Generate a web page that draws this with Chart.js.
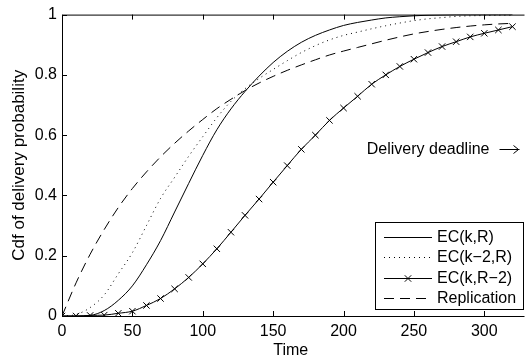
<!DOCTYPE html>
<html>
<head>
<meta charset="utf-8">
<script src="https://cdn.jsdelivr.net/npm/chart.js@4/dist/chart.umd.min.js"></script>
<style>
	body { margin: 0; background: white; }
	canvas { display: block; }
</style>
</head>
<body>
<canvas id="cdf" width="525" height="360"></canvas>
<script>
// time axis (every 10 units)
var times = [0, 10, 20, 30, 40, 50, 60, 70, 80, 90, 100, 110, 120, 130, 140, 150, 160,
	170, 180, 190, 200, 210, 220, 230, 240, 250, 260, 270, 280, 290, 300, 310, 320];

var ecKR = [0, 0, 0.002, 0.018, 0.052, 0.10, 0.17, 0.25, 0.345, 0.44, 0.533, 0.618, 0.687,
	0.745, 0.796, 0.841, 0.878, 0.908, 0.931, 0.949, 0.964, 0.974, 0.982, 0.989, 0.993,
	0.996, 0.998, 0.999, 1, 1, 1, 1, 1];
var ecK2R = [0, 0.005, 0.028, 0.07, 0.14, 0.21, 0.30, 0.39, 0.46, 0.53, 0.595, 0.658, 0.712,
	0.754, 0.788, 0.818, 0.847, 0.874, 0.897, 0.916, 0.931, 0.942, 0.953, 0.963, 0.972,
	0.98, 0.986, 0.99, 0.994, 0.996, 0.997, 0.998, 0.998];
var ecKR2 = [0, 0, 0.002, 0.003, 0.009, 0.016, 0.035, 0.058, 0.09, 0.128, 0.173, 0.223, 0.278,
	0.334, 0.388, 0.444, 0.499, 0.553, 0.60, 0.649, 0.69, 0.729, 0.769, 0.80, 0.828,
	0.852, 0.874, 0.894, 0.91, 0.926, 0.938, 0.949, 0.96];
var replication = [0, 0.11, 0.205, 0.287, 0.36, 0.423, 0.478, 0.528, 0.573, 0.614, 0.652, 0.688, 0.719,
	0.748, 0.773, 0.795, 0.815, 0.833, 0.85, 0.866, 0.879, 0.891, 0.903, 0.915, 0.926,
	0.936, 0.944, 0.951, 0.957, 0.962, 0.966, 0.969, 0.971];

var seriesLabels = ['EC(k,R)', 'EC(k\u22122,R)', 'EC(k,R\u22122)', 'Replication'];
var xTicks = [0, 50, 100, 150, 200, 250, 300];
var yTicks = [0, 0.2, 0.4, 0.6, 0.8, 1];
var deadlineText = 'Delivery deadline';
var deadlinePoint = [325, 0.553];

var FONT = '"Liberation Sans", Arial, Helvetica, sans-serif';

function pts(ys) {
	return times.map(function (t, i) { return { x: t, y: ys[i] }; });
}

// frame + inward ticks like matlab
var framePlugin = {
	id: 'frame',
	afterDatasetsDraw: function (chart) {
		var ctx = chart.ctx;
		var a = chart.chartArea;
		var xs = chart.scales.x, ys = chart.scales.y;
		ctx.save();
		ctx.strokeStyle = 'black';
		ctx.lineWidth = 1;
		ctx.beginPath();
		ctx.moveTo(a.right + 5, a.top + 0.5);
		ctx.lineTo(a.left + 0.5, a.top + 0.5);
		ctx.lineTo(a.left + 0.5, a.bottom + 0.5);
		ctx.lineTo(a.right + 5, a.bottom + 0.5);
		xTicks.forEach(function (v) {
			var px = Math.round(xs.getPixelForValue(v)) + 0.5;
			ctx.moveTo(px, a.bottom);
			ctx.lineTo(px, a.bottom - 5);
			ctx.moveTo(px, a.top);
			ctx.lineTo(px, a.top + 5);
		});
		yTicks.forEach(function (v) {
			var py = Math.round(ys.getPixelForValue(v)) + 0.5;
			ctx.moveTo(a.left, py);
			ctx.lineTo(a.left + 5, py);
		});
		ctx.stroke();

		// deadline annotation
		var ax = xs.getPixelForValue(deadlinePoint[0]);
		var ay = Math.round(ys.getPixelForValue(deadlinePoint[1])) + 0.5;
		ctx.fillStyle = 'black';
		ctx.font = '16px ' + FONT;
		ctx.textAlign = 'right';
		ctx.textBaseline = 'middle';
		ctx.fillText(deadlineText, ax - 30, ay);
		ctx.beginPath();
		ctx.moveTo(ax - 20, ay);
		ctx.lineTo(ax, ay);
		ctx.moveTo(ax - 6, ay - 4);
		ctx.lineTo(ax - 1, ay);
		ctx.lineTo(ax - 6, ay + 4);
		ctx.stroke();

		// legend box
		var bx = 375, by = 222, bw = 148, bh = 87;
		ctx.fillStyle = 'white';
		ctx.fillRect(bx, by, bw, bh);
		ctx.strokeRect(bx + 0.5, by + 0.5, bw, bh);
		chart.data.datasets.forEach(function (ds, i) {
			var ry = Math.round(by + 15 + i * 20.3) + 0.5;
			ctx.save();
			ctx.setLineDash(ds.borderDash || []);
			ctx.beginPath();
			ctx.moveTo(bx + 9, ry);
			ctx.lineTo(bx + 57, ry);
			ctx.stroke();
			ctx.restore();
			if (ds.pointRadius > 0) {
				var cx = bx + 33, r = 3.2;
				ctx.beginPath();
				ctx.moveTo(cx - r, ry - r); ctx.lineTo(cx + r, ry + r);
				ctx.moveTo(cx - r, ry + r); ctx.lineTo(cx + r, ry - r);
				ctx.stroke();
			}
			ctx.fillStyle = 'black';
			ctx.textAlign = 'left';
			ctx.fillText(ds.label, bx + 62, ry);
		});
		ctx.restore();
	}
};

function start() {
	var ctx = document.getElementById('cdf').getContext('2d');
	new Chart(ctx, {
		type: 'line',
		data: {
			datasets: [{
				label: seriesLabels[0],
				data: pts(ecKR),
				borderColor: 'black',
				borderWidth: 1,
				pointRadius: 0
			}, {
				label: seriesLabels[1],
				data: pts(ecK2R),
				borderColor: 'black',
				borderWidth: 1,
				borderDash: [1, 4],
				pointRadius: 0
			}, {
				label: seriesLabels[2],
				data: pts(ecKR2),
				borderColor: 'black',
				borderWidth: 1,
				pointRadius: 4.5,
				pointStyle: 'crossRot',
				pointBorderColor: 'black',
				pointBorderWidth: 1
			}, {
				label: seriesLabels[3],
				data: pts(replication),
				borderColor: 'black',
				borderWidth: 1,
				borderDash: [10, 6],
				pointRadius: 0
			}]
		},
		options: {
			responsive: false,
			animation: false,
			cubicInterpolationMode: 'monotone',
			layout: { padding: { top: 12, right: 0, left: 0, bottom: 0 } },
			plugins: {
				legend: { display: false },
				tooltip: { enabled: false }
			},
			scales: {
				x: {
					type: 'linear',
					min: 0,
					max: 325,
					border: { display: false },
					grid: { display: false, drawTicks: false },
					ticks: {
						stepSize: 50,
						includeBounds: false,
						maxRotation: 0,
						padding: 6,
						color: 'black',
						font: { size: 16, family: FONT }
					},
					title: {
						display: true,
						text: 'Time',
						color: 'black',
						font: { size: 16, family: FONT },
						padding: { top: 0, bottom: 0 }
					},
					afterFit: function (scale) { scale.height = 44; }
				},
				y: {
					min: 0,
					max: 1,
					border: { display: false },
					grid: { display: false, drawTicks: false },
					ticks: {
						stepSize: 0.2,
						padding: 5,
						color: 'black',
						font: { size: 16, family: FONT },
						callback: function (v) { return String(Math.round(v * 10) / 10); }
					},
					title: {
						display: true,
						text: 'Cdf of delivery probability',
						color: 'black',
						font: { size: 17, family: FONT },
						padding: { top: 9, bottom: 0 }
					},
					afterFit: function (scale) { scale.width = 62; }
				}
			}
		},
		plugins: [framePlugin]
	});
}

window.onload = start;
</script>
</body>
</html>
